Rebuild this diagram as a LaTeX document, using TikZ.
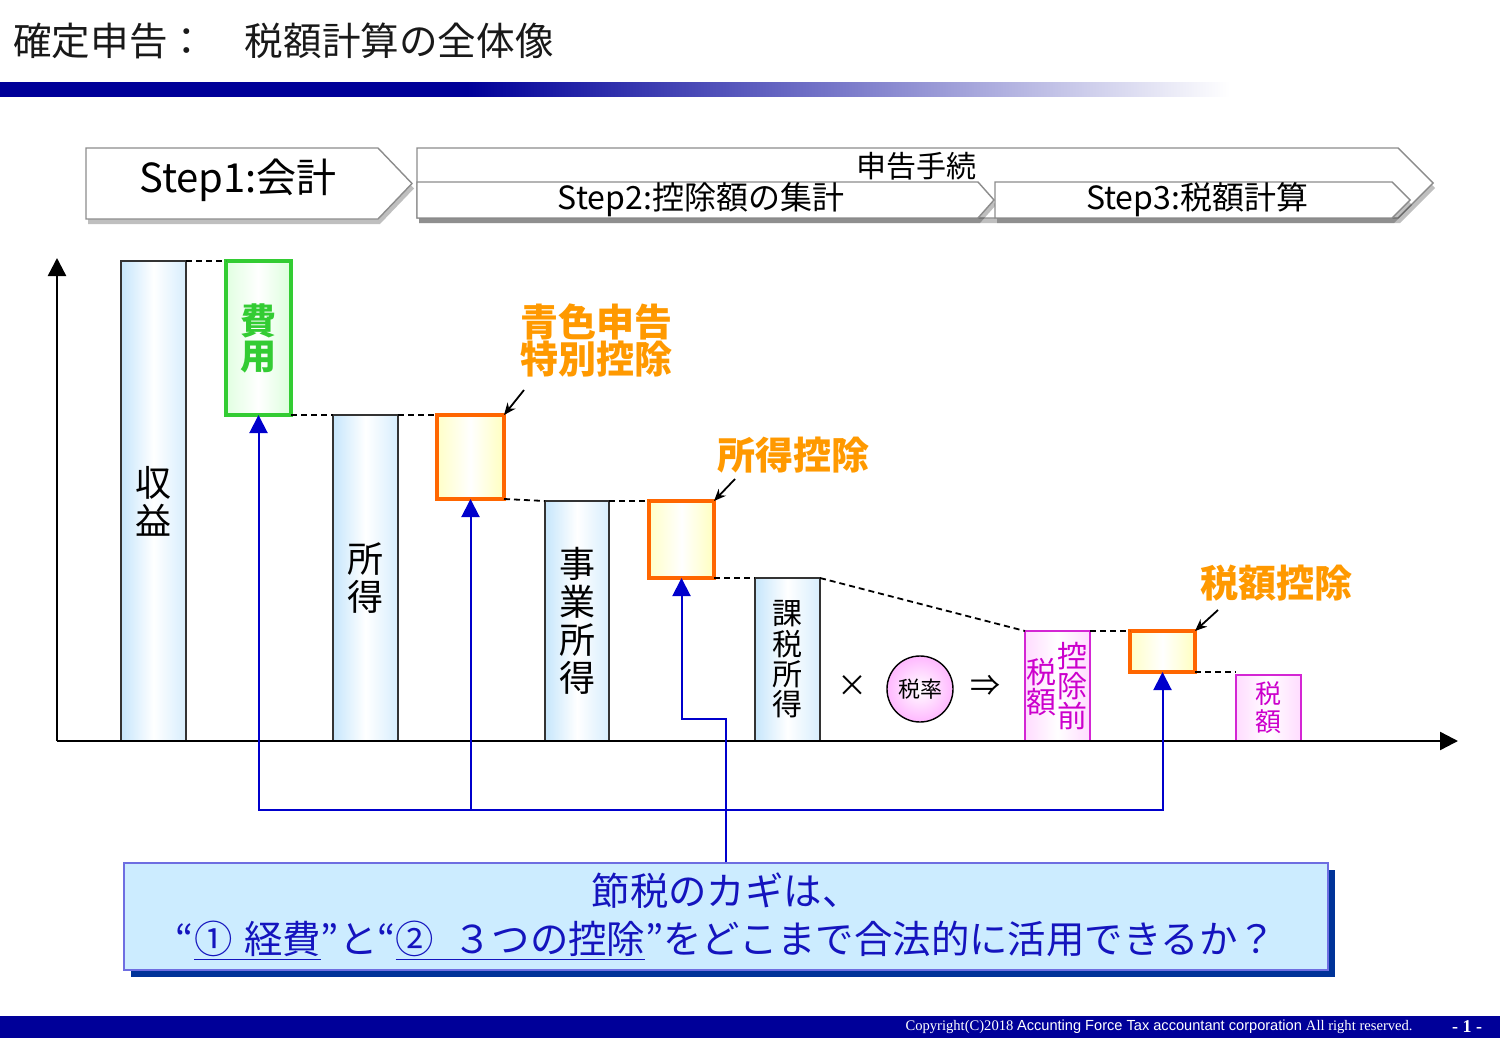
\documentclass[tikz,border=0pt]{standalone}
\usepackage{fontspec}
\setmainfont{Noto Sans CJK JP}
\newfontfamily\footserif{Liberation Serif}
\newfontfamily\footsans{Liberation Sans}
\usetikzlibrary{arrows.meta,shadows}

\definecolor{NavyBar}{RGB}{0,0,153}
\definecolor{BarBlue}{RGB}{198,230,252}
\definecolor{LeafGreen}{RGB}{51,204,51}
\definecolor{DeepOrange}{RGB}{255,102,0}
\definecolor{LabelOrange}{RGB}{255,153,0}
\definecolor{TaxPink}{RGB}{204,0,204}
\definecolor{LinkBlue}{RGB}{0,0,204}
\definecolor{KeyFill}{RGB}{204,236,255}
\definecolor{KeyLine}{RGB}{110,110,225}
\definecolor{KeyShadow}{RGB}{0,51,153}
\definecolor{KeyText}{RGB}{20,20,190}
\pgfdeclarehorizontalshading{HeadShade}{50bp}{color(0bp)=(NavyBar); color(44bp)=(NavyBar);
  color(60bp)=(NavyBar!50); color(75bp)=(white); color(100bp)=(white)}

\begin{document}
\begin{tikzpicture}[x=0.5pt, y=-0.5pt]
        \tikzset{
          StepStyle/.style={draw=black!45, line width=0.7pt, fill=white,
            drop shadow={shadow xshift=1pt, shadow yshift=-2.5pt, opacity=0.25, fill=black}},
          BarStyle/.style={draw=black!80, line width=0.7pt, left color=BarBlue,
            right color=BarBlue!70, middle color=white, anchor=north west,
            minimum width=32.5pt, inner sep=0pt, outer sep=0pt, align=center,
            font=\fontsize{18pt}{19pt}\selectfont},
          CostStyle/.style={BarStyle, draw=LeafGreen, line width=2pt,
            left color=green!12, right color=green!14, middle color=white,
            text=LeafGreen, font=\fontsize{18pt}{17.5pt}\selectfont\bfseries},
          DeductStyle/.style={draw=DeepOrange, line width=2pt, anchor=north west,
            left color=yellow!22, right color=yellow!25, middle color=white,
            minimum width=32.5pt, inner sep=0pt, outer sep=0pt},
          TaxStyle/.style={draw=TaxPink!85, line width=0.7pt, anchor=north west,
            left color=magenta!14, right color=magenta!14, middle color=white,
            minimum width=32.5pt, inner sep=0pt, outer sep=0pt, align=center,
            text=TaxPink, font=\fontsize{13pt}{14pt}\selectfont},
          TaxText/.style={text=TaxPink, align=center, inner sep=0pt,
            font=\fontsize{15pt}{15pt}\selectfont},
          LabelStyle/.style={text=LabelOrange, align=center, inner sep=0pt,
            font=\fontsize{19pt}{18.5pt}\selectfont\bfseries},
          DashStyle/.style={line width=0.9pt, dash pattern=on 3pt off 2pt},
          LinkStyle/.style={draw=LinkBlue, line width=1pt,
            -{Triangle[length=9pt, width=9pt]}},     % blue connectors
          PointStyle/.style={line width=0.9pt, -{Stealth[length=6pt, width=5pt]}},
          AxisStyle/.style={line width=1.2pt, -{Triangle[length=9pt, width=9pt]}}
        }
        \useasboundingbox (0,0) rectangle (1500,1038);

        % header
        \node[anchor=west, inner sep=0pt, text=black!90,
              font=\fontsize{19.3pt}{22pt}\selectfont] (Title) at (13,41) {確定申告：　税額計算の全体像};
        \shade[shading=HeadShade] (0,83) rectangle (1230,97);

        % steps
        \draw[StepStyle] (86,148) -- (378,148) -- (412,183.5) -- (378,219) -- (86,219) -- cycle;
        \draw[StepStyle] (417,148) -- (1398,148) -- (1433,183) -- (1398,218) -- (417,218) -- cycle;
        \draw[StepStyle] (417,182) -- (978,182) -- (994,200) -- (978,218) -- (417,218) -- cycle;
        \draw[StepStyle] (995,182) -- (1392,182) -- (1410,200) -- (1392,218) -- (995,218) -- cycle;
        \node[font=\fontsize{20pt}{22pt}\selectfont] (Step1) at (238,180) {Step1:会計};
        \node[font=\fontsize{15pt}{18pt}\selectfont] (Filing) at (916,166) {申告手続};
        \node[font=\fontsize{16pt}{19pt}\selectfont] (Step2) at (701,200) {Step2:控除額の集計};
        \node[font=\fontsize{16pt}{19pt}\selectfont] (Step3) at (1197,200) {Step3:税額計算};

        % axes
        \coordinate (O) at (57,741);
        \coordinate (Ytop) at (57,258);
        \coordinate (Xend) at (1458,741);

        % bars
        \node[BarStyle, minimum height=240pt] (Rev) at (121,261) {収\\益};
        \node[CostStyle, minimum height=77pt] (Exp) at (226,261) {費\\用};
        \node[BarStyle, minimum height=163pt] (Inc) at (333,415) {所\\得};
        \node[DeductStyle, minimum width=33.5pt, minimum height=42pt] (Blue) at (437,415) {};
        \node[BarStyle, minimum width=32pt, minimum height=120pt] (Biz) at (545,501) {事\\業\\所\\得};
        \node[DeductStyle, minimum height=38.5pt] (IncDed) at (649,501) {};
        \node[BarStyle, minimum height=81.5pt,
              font=\fontsize{15pt}{15.2pt}\selectfont] (TaxInc) at (755,578) {課\\税\\所\\得};
        \node[font=\fontsize{15pt}{15pt}\selectfont] (Times) at (852,686) {×};
        \node[circle, draw, line width=0.7pt, minimum size=33pt, inner sep=0pt,
              inner color=white, outer color=magenta!28,
              font=\fontsize{11pt}{11pt}\selectfont] (Rate) at (920,689) {税率};
        \node[font=\fontsize{15pt}{15pt}\selectfont] (Then) at (985,686) {⇒};
        \node[TaxStyle, minimum height=55pt] (PreTax) at (1025,631) {};
        \node[TaxText] (PreTaxL) at (1041,687) {税\\額};
        \node[TaxText] (PreTaxR) at (1072,686) {控\\除\\前};
        \node[DeductStyle, minimum height=20.5pt] (TaxDed) at (1130,631) {};
        \node[TaxStyle, minimum height=33pt] (Tax) at (1236,675) {税\\額};

        \draw[AxisStyle] (O) -- (Ytop);
        \draw[AxisStyle] (O) -- (Xend);

        % dashed steps
        \draw[DashStyle] (Rev.north east) -- (Exp.north west);
        \draw[DashStyle] (Exp.south east) -- (Inc.north west);
        \draw[DashStyle] (Inc.north east) -- (Blue.north west);
        \draw[DashStyle] (Blue.south east) -- (Biz.north west);
        \draw[DashStyle] (Biz.north east) -- (IncDed.north west);
        \draw[DashStyle] (IncDed.south east) -- (TaxInc.north west);
        \draw[DashStyle] (TaxInc.north east) -- (PreTax.north west);
        \draw[DashStyle] (PreTax.north east) -- (TaxDed.north west);
        \draw[DashStyle] (TaxDed.south east) -- (TaxDed.south east -| Tax.west);

        % deduction labels
        \node[LabelStyle] (BlueLbl) at (596,340) {青色申告\\特別控除};
        \node[LabelStyle] (IncDedLbl) at (793,455) {所得控除};
        \node[LabelStyle] (TaxDedLbl) at (1276,583) {税額控除};
        \coordinate (BlueTail) at (524,390);
        \coordinate (IncDedTail) at (735,479);
        \coordinate (TaxDedTail) at (1218,610);
        \draw[PointStyle] (BlueTail) -- (Blue.north east);
        \draw[PointStyle] (IncDedTail) -- (IncDed.north east);
        \draw[PointStyle] (TaxDedTail) -- (TaxDed.north east);

        % key message
        \node[draw=KeyLine, line width=0.7pt, fill=KeyFill, minimum width=602pt,
              minimum height=53.5pt, align=center, text=KeyText,
              font=\fontsize{19.2pt}{24pt}\selectfont,
              drop shadow={shadow xshift=3.5pt, shadow yshift=-3.5pt, fill=KeyShadow, opacity=1}]
              (Key) at (726,916.5)
              {節税のカギは、\\“\underline{①\hspace{0.3em}経費}”と“\underline{②\hspace{0.5em}３つの控除}”をどこまで合法的に活用できるか？};

        % links
        \coordinate (Hub) at (725,810);
        \draw[LinkStyle] (Hub) -| (Exp.south);
        \draw[LinkStyle] (Hub) -| (Blue.south);
        \draw[LinkStyle] (Hub) -| (TaxDed.south);
        \draw[LinkStyle] (Key.north) -- ++(0,-143) -| (IncDed.south);

        % footer
        \fill[NavyBar] (0,1016) rectangle (1500,1038);
        \node[anchor=east, text=white, inner sep=0pt, font=\fontsize{7.3pt}{8pt}\selectfont] (Copy) at (1413,1027)
              {\footserif Copyright(C)2018 \footsans Accunting Force Tax accountant corporation \footserif All right reserved.};
        \node[text=white, inner sep=0pt, font=\fontsize{9pt}{10pt}\selectfont\footserif\bfseries] (Page) at (1467,1027) {- 1 -};
\end{tikzpicture}
\end{document}
